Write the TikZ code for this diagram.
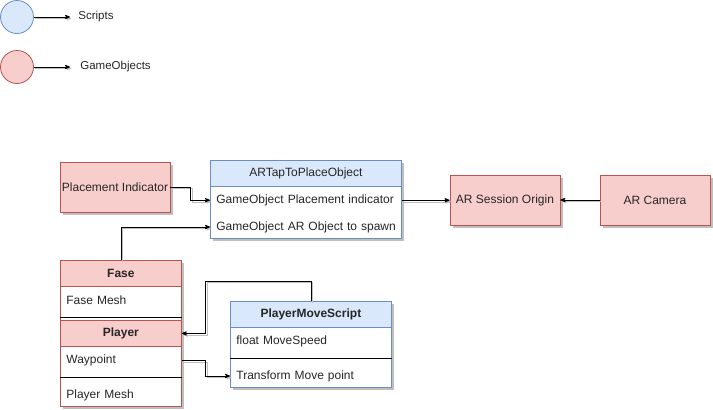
\documentclass[tikz,border=0pt]{standalone}
\usepackage{fontspec}
\setmainfont{Liberation Sans}
\usepackage{tikz}
\usetikzlibrary{arrows,positioning,shadows}

\definecolor{goFill}{HTML}{F8CECC}
\definecolor{goLine}{HTML}{B85450}
\definecolor{scFill}{HTML}{DAE8FC}
\definecolor{scLine}{HTML}{6C8EBF}

\begin{document}
\begin{tikzpicture}[
        x=1pt, y=-1pt,
        every node/.style={font=\fontsize{12pt}{14pt}\selectfont, text=black!85, line width=0.8pt},
        shade3/.style={drop shadow={shadow xshift=3pt, shadow yshift=-3pt, fill=black, opacity=0.25}},
        legend/.style={circle, minimum size=33pt, inner sep=0pt},
        gobox/.style={draw=goLine, fill=goFill, shade3, minimum width=110pt, minimum height=50pt, inner sep=0pt},
        classbox/.style={fill=white, shade3, anchor=north west, inner sep=0pt},
        head/.style={minimum height=26pt, inner sep=0pt},
        row/.style={minimum height=26pt, inner xsep=6pt, inner ysep=0pt, align=left},
        to/.style={->,>=stealth',line width=0.8pt,
          preaction={draw=black!25, transform canvas={shift={(1.5pt,-1.5pt)}}}},
        ]
      \useasboundingbox (0,0) rectangle (713,410);

      % legend
      \node [legend, draw=scLine, fill=scFill] (scripts) at (17,17) {};
      \node [legend, draw=goLine, fill=goFill] (gameobjects) at (17,67) {};
      \coordinate (scripts-end) at (70,17);
      \coordinate (gameobjects-end) at (70,67);
      \node [right=8pt of scripts-end, inner sep=0pt, font=\fontsize{11.5pt}{13pt}\selectfont] (scripts-label) {Scripts};
      \node [right=10pt of gameobjects-end, inner sep=0pt, font=\fontsize{11.5pt}{13pt}\selectfont] (gameobjects-label) {GameObjects};

      \node [gobox] (place-ind) at (115,187) {Placement Indicator};
      \node [gobox] (ar-origin) at (505,200) {AR Session Origin};
      \node [gobox] (ar-cam) at (655,200) {AR Camera};

      % ARTapToPlaceObject
      \node [classbox, draw=scLine, minimum width=191pt, minimum height=78pt] (tap) at (210,160) {};
      \node [head, draw=scLine, fill=scFill, minimum width=191pt, below right=0pt of tap.north west] (tap-head) {ARTapToPlaceObject};
      \node [row, text width=179pt, below right=0pt of tap-head.south west] (tap-row1) {\mbox{GameObject Placement indicator}};
      \node [row, text width=179pt, below right=0pt of tap-row1.south west] (tap-row2) {\mbox{GameObject AR Object to spawn}};

      % Fase
      \node [classbox, draw=goLine, minimum width=121pt, minimum height=60pt] (fase) at (60,260) {};
      \node [head, draw=goLine, fill=goFill, minimum width=121pt, font=\fontsize{12pt}{14pt}\selectfont\bfseries, below right=0pt of fase.north west] (fase-head) {Fase};
      \node [row, text width=109pt, below right=0pt of fase-head.south west] (fase-mesh) {Fase Mesh};
      \draw ([yshift=-4pt]fase-mesh.south west) -- ([yshift=-4pt]fase-mesh.south east);

      % Player
      \node [classbox, draw=goLine, minimum width=121pt, minimum height=86pt] (player) at (60,320) {};
      \node [head, draw=goLine, fill=goFill, minimum width=121pt, font=\fontsize{12pt}{14pt}\selectfont\bfseries, below right=0pt of player.north west] (player-head) {Player};
      \node [row, text width=109pt, below right=0pt of player-head.south west] (waypoint) {Waypoint};
      \node [row, text width=109pt, below right=8pt and 0pt of waypoint.south west] (player-mesh) {Player Mesh};
      \draw ([yshift=-4pt]waypoint.south west) -- ([yshift=-4pt]waypoint.south east);

      % PlayerMoveScript
      \node [classbox, draw=scLine, minimum width=161pt, minimum height=86pt] (move) at (230,301) {};
      \node [head, draw=scLine, fill=scFill, minimum width=161pt, font=\fontsize{12pt}{14pt}\selectfont\bfseries, below right=0pt of move.north west] (move-head) {PlayerMoveScript};
      \node [row, text width=149pt, below right=0pt of move-head.south west] (move-speed) {float MoveSpeed};
      \node [row, text width=149pt, below right=8pt and 0pt of move-speed.south west] (move-point) {Transform Move point};
      \draw ([yshift=-4pt]move-speed.south west) -- ([yshift=-4pt]move-speed.south east);

      \draw[to] (scripts) -- (scripts-end);
      \draw[to] (gameobjects) -- (gameobjects-end);
      \draw[to] (place-ind.east) -- ++(20,0) |- (tap-row1.west);
      \draw[to] (fase-head.north) |- (tap-row2.west);
      \draw[to] (tap-row1.east) -- (tap-row1.east -| ar-origin.west);
      \draw[to] (ar-cam.west) -- (ar-origin.east);
      \draw[to] (move-head.north) -- ++(0,-20) -| ([xshift=24pt]player-head.east) -- (player-head.east);
      \draw[to] (waypoint.east) -- ++(24,0) |- (move-point.west);
    \end{tikzpicture}
\end{document}
